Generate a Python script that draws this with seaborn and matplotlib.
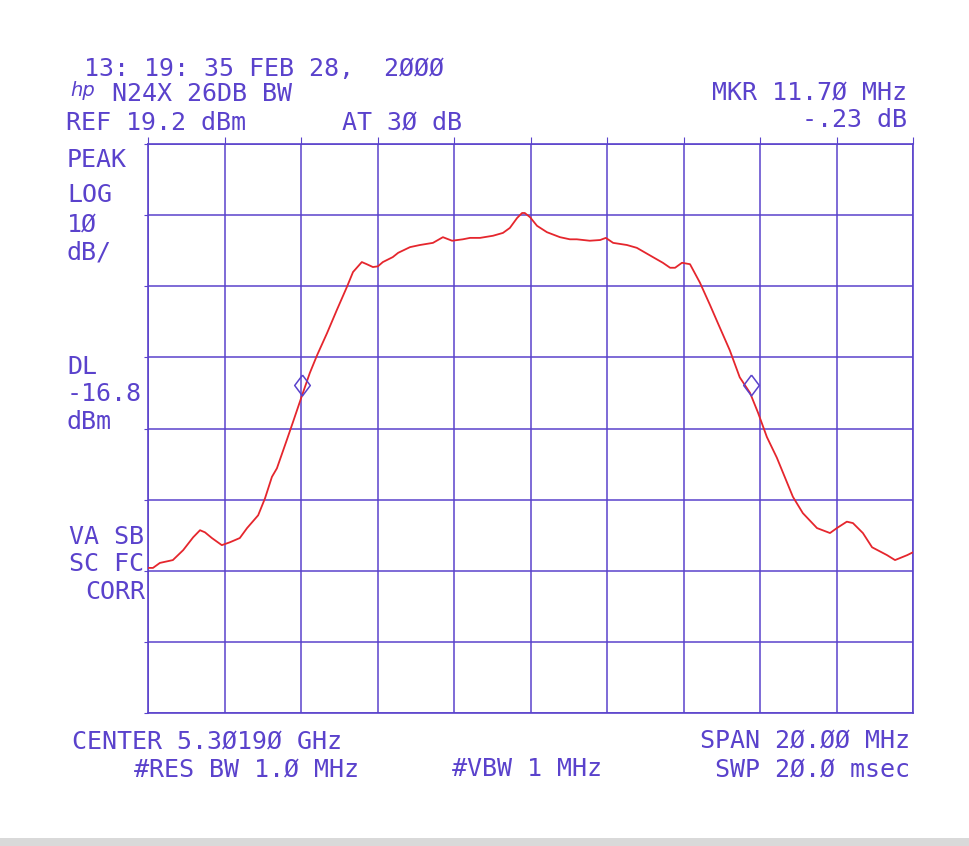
import numpy as np
import pandas as pd
import seaborn as sns
import matplotlib.pyplot as plt
from matplotlib.patches import Rectangle

# trace: offset from center (MHz) and level (dBm)
freq_mhz = [-10.00, -9.87, -9.69, -9.35, -9.08, -8.82, -8.64, -8.51, -8.33, -8.07,
            -7.86, -7.60, -7.41, -7.12, -6.94, -6.76, -6.63, -6.37, -6.21, -5.97,
            -5.77, -5.58, -5.32, -5.06, -4.80, -4.64, -4.41, -4.28, -4.12, -3.99,
            -3.86, -3.60, -3.46, -3.15, -2.89, -2.55, -2.29, -2.05, -1.77, -1.58,
            -1.32, -0.98, -0.72, -0.54, -0.35, -0.22, -0.15, -0.01, 0.17, 0.43,
            0.77, 1.03, 1.21, 1.55, 1.82, 1.97, 2.16, 2.52, 2.78, 3.20,
            3.46, 3.65, 3.78, 3.96, 4.17, 4.43, 4.69, 4.90, 5.21, 5.47,
            5.74, 5.95, 6.18, 6.44, 6.86, 7.12, 7.49, 7.83, 8.01, 8.27,
            8.43, 8.69, 8.93, 9.32, 9.53, 9.85, 10.00]
level_dbm = [-40.4, -40.4, -39.7, -39.3, -37.9, -36.1, -35.1, -35.4, -36.2, -37.2,
             -36.8, -36.2, -34.8, -33.0, -30.6, -27.6, -26.4, -22.4, -19.9, -16.1,
             -13.0, -10.5, -7.4, -4.1, -0.9, 1.2, 2.6, 2.3, 1.9, 2.0,
             2.6, 3.3, 3.9, 4.7, 5.0, 5.3, 6.1, 5.6, 5.8, 6.0,
             6.0, 6.3, 6.7, 7.4, 8.8, 9.5, 9.5, 8.9, 7.7, 6.8,
             6.1, 5.8, 5.8, 5.6, 5.7, 6.0, 5.3, 5.0, 4.6, 3.3,
             2.5, 1.8, 1.8, 2.5, 2.3, -0.3, -3.4, -6.0, -9.8, -13.6,
             -15.8, -18.6, -22.0, -24.9, -30.4, -32.7, -34.8, -35.5, -34.8, -33.9,
             -34.1, -35.5, -37.5, -38.6, -39.3, -38.6, -38.2]

# 26 dB bandwidth markers
marker_mhz = [-5.97, 5.76]
marker_dbm = [-14.7, -14.7]

ref_level = 19.2
db_per_div = 10
n_vdiv = 8

BLUE = '#5a42cc'
RED = '#e5262d'

sns.set_style("white")
plt.rcParams['font.family'] = ['DejaVu Sans Mono', 'DejaVu Sans']

fig = plt.figure(figsize=(9.7, 8.46), dpi=100)
ax = fig.add_axes([148/970, 1 - 713/846, 765/970, 569/846])

df = pd.DataFrame({'freq': freq_mhz, 'level': level_dbm})
sns.lineplot(data=df, x='freq', y='level', ax=ax, color=RED, linewidth=1.3,
             sort=False, zorder=3)

diamond = [(0, 1), (0.75, 0), (0, -1), (-0.75, 0), (0, 1)]
ax.plot(marker_mhz, marker_dbm, linestyle='none', marker=diamond, markersize=15,
        mfc='none', mec=BLUE, mew=1.1, zorder=4)

ax.set_xlim(-10, 10)
ax.set_ylim(ref_level - db_per_div * n_vdiv, ref_level)
ax.set_xticks(np.arange(-10, 10.1, 2))
ax.set_yticks([ref_level - db_per_div * k for k in range(n_vdiv + 1)])
ax.grid(True, color=BLUE, linewidth=1.1)
ax.tick_params(axis='x', top=True, bottom=False, direction='out', length=5,
               color=BLUE, labelbottom=False)
ax.tick_params(axis='y', left=True, direction='out', length=3, color=BLUE,
               labelleft=False)
for s in ax.spines.values():
    s.set_color(BLUE)
    s.set_linewidth(1.2)
ax.set_xlabel('')
ax.set_ylabel('')

W, H = 970, 846


def put(x, y, s, ha='left', size=18):
    fig.text(x / W, 1 - y / H, s, ha=ha, va='center', color=BLUE, fontsize=size)


put(84, 69, '13: 19: 35 FEB 28,  2ØØØ')
fig.text(70 / W, 1 - 91 / H, 'hp', ha='left', va='center', color=BLUE,
         fontsize=14, fontstyle='italic', family='DejaVu Sans')
put(112, 94, 'N24X 26DB BW')
put(66, 123, 'REF 19.2 dBm')
put(342, 123, 'AT 3Ø dB')
put(907, 93, 'MKR 11.7Ø MHz', ha='right')
put(907, 120, '-.23 dB', ha='right')

put(67, 160, 'PEAK')
put(67, 195, 'LOG')
put(67, 224, '1Ø')
put(67, 252, 'dB/')
put(67, 367, 'DL')
put(67, 394, '-16.8')
put(67, 422, 'dBm')
put(69, 537, 'VA SB')
put(69, 564, 'SC FC')
put(85, 592, 'CORR')

put(72, 741, 'CENTER 5.3Ø19Ø GHz')
put(134, 769, '#RES BW 1.Ø MHz')
put(452, 769, '#VBW 1 MHz')
put(910, 740, 'SPAN 2Ø.ØØ MHz', ha='right')
put(910, 769, 'SWP 2Ø.Ø msec', ha='right')

# grey edge of the scanned sheet
fig.patches.append(Rectangle((0, 0), 1, 8 / H, transform=fig.transFigure,
                             facecolor='#d9d9d9', edgecolor='none'))

fig.savefig('out.png', dpi=100, facecolor='white')
